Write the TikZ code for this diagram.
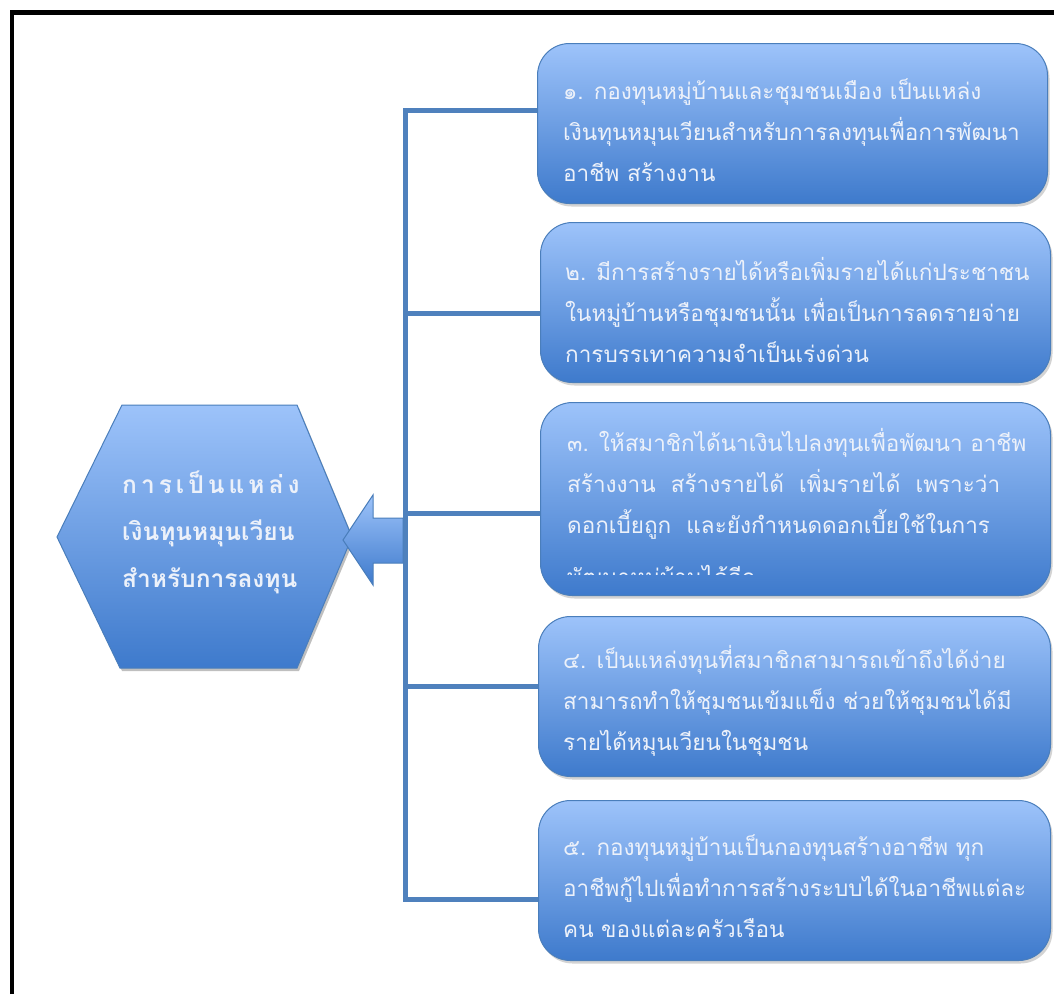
\documentclass[tikz,border=0pt]{standalone}
\usepackage{fontspec}
\setmainfont[Script=Thai]{Loma}
\usetikzlibrary{shadows}
\definecolor{lightb}{RGB}{157,195,250}
\definecolor{darkb}{RGB}{62,122,204}
\definecolor{edgeb}{RGB}{74,126,187}
\definecolor{linkb}{RGB}{79,129,189}
\definecolor{txtw}{RGB}{236,241,250}
\begin{document}
\begin{tikzpicture}[x=1pt,y=-1pt,
  card/.style={draw=edgeb, line width=1pt, rounded corners=32pt,
    top color=lightb, bottom color=darkb, anchor=north west, inner sep=0pt,
    drop shadow={shadow xshift=2pt, shadow yshift=-3pt, opacity=0.35}},
  shapefill/.style={draw=edgeb, line width=1pt, top color=lightb, bottom color=darkb},
  link/.style={draw=linkb, line width=5pt, line join=miter},
  linkshadow/.style={draw=black, opacity=0.18, line width=5pt, line join=miter, xshift=2pt, yshift=-2pt},
  txt/.style={text=txtw, font=\fontsize{22.5}{41}\selectfont, align=left, inner sep=0pt, anchor=base west},
  hextxt/.style={text=txtw, font=\bfseries\fontsize{24.5}{47}\selectfont, align=left, inner sep=0pt, anchor=base west}]
\useasboundingbox (0,0) rectangle (1054,994);
% frame
\draw[line width=4.5pt] (12,994) -- (12,12.5) -- (1054,12.5);
% boxes
\node[card, minimum width=510pt, minimum height=160pt] (b1) at (537,43) {};
\node[card, minimum width=510pt, minimum height=160pt] (b2) at (540,222) {};
\node[card, minimum width=510pt, minimum height=193pt] (b3) at (540,402) {};
\node[card, minimum width=512pt, minimum height=160pt] (b4) at (538,616) {};
\node[card, minimum width=512pt, minimum height=160pt] (b5) at (538,800) {};
% connector tree
\coordinate (j1) at (405,110);
\coordinate (j2) at (405,313);
\coordinate (j3) at (405,513);
\coordinate (j4) at (405,686);
\coordinate (j5) at (405,899);
\foreach \s in {linkshadow,link}{
  \draw[\s] (j1 -| b1.west) -- (j1) -- (j5) -- (j5 -| b5.west);
  \draw[\s] (j2) -- (j2 -| b2.west);
  \draw[\s] (j3) -- (j3 -| b3.west);
  \draw[\s] (j4) -- (j4 -| b4.west);
}
% hexagon
\fill[black, opacity=0.25, xshift=2pt, yshift=-3pt] (57,537) -- (122,405) -- (297,405) -- (352,537) -- (297,668) -- (120,668) -- cycle;
\path[shapefill] (57,537) -- (122,405) -- (297,405) -- (352,537) -- (297,668) -- (120,668) -- cycle;
% arrow
\path[shapefill] (343,540) -- (373,495) -- (373,518) -- (403,518) -- (403,563) -- (373,563) -- (373,585) -- cycle;
% hexagon text
\def\ls{\kern4pt}
\node[hextxt] (ht) at (122,587) {ก\ls า\ls ร\ls เ\ls ป็\ls น\ls แ\ls ห\ls ล่\ls ง\\เงินทุนหมุนเวียน\\สำหรับการลงทุน};
% box texts
\node[txt] (t1) at (563,181) {๑. กองทุนหมู่บ้านและชุมชนเมือง เป็นแหล่ง\\เงินทุนหมุนเวียนสำหรับการลงทุนเพื่อการพัฒนา\\อาชีพ สร้างงาน};
\node[txt] (t2) at (565,362) {๒. มีการสร้างรายได้หรือเพิ่มรายได้แก่ประชาชน\\ในหมู่บ้านหรือชุมชนนั้น เพื่อเป็นการลดรายจ่าย\\การบรรเทาความจำเป็นเร่งด่วน};
\begin{scope}
\clip (540,402) rectangle (1050,574);
\node[txt] (t3) at (567,585) {๓. ให้สมาชิกได้นาเงินไปลงทุนเพื่อพัฒนา อาชีพ\\สร้างงาน\ \ สร้างรายได้\ \ เพิ่มรายได้\ \ เพราะว่า\\ดอกเบี้ยถูก\ \ และยังกำหนดดอกเบี้ยใช้ในการ\\[11pt]พัฒนาหมู่บ้านได้อีก};
\end{scope}
\node[txt] (t4) at (563,750) {๔. เป็นแหล่งทุนที่สมาชิกสามารถเข้าถึงได้ง่าย\\สามารถทำให้ชุมชนเข้มแข็ง ช่วยให้ชุมชนได้มี\\รายได้หมุนเวียนในชุมชน};
\node[txt] (t5) at (563,937) {๕. กองทุนหมู่บ้านเป็นกองทุนสร้างอาชีพ ทุก\\อาชีพกู้ไปเพื่อทำการสร้างระบบได้ในอาชีพแต่ละ\\คน ของแต่ละครัวเรือน};
\end{tikzpicture}
\end{document}
